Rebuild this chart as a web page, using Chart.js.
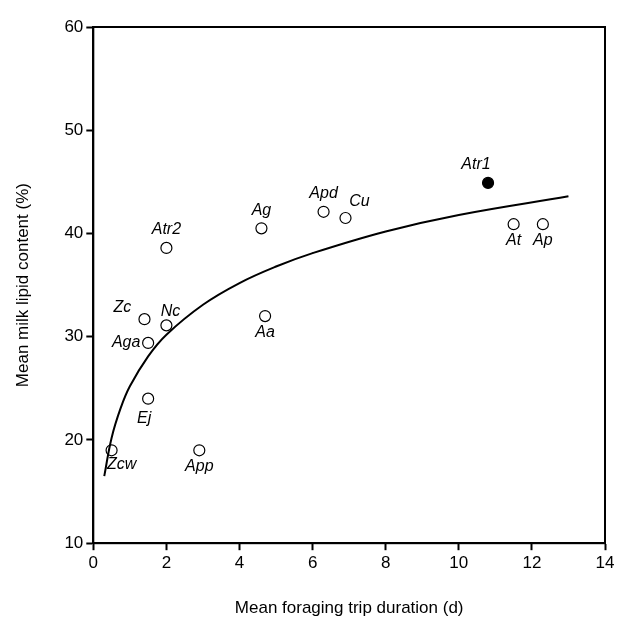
<!DOCTYPE html>
<html><head><style>html,body{margin:0;background:#fff}#w{width:625px;height:624px}</style>
<script src="https://cdn.jsdelivr.net/npm/chart.js"></script></head>
<body><div id="w"><canvas id="c"></canvas></div>
<script>
const speciesLabels=["Zcw","App","Ej","Aga","Zc","Nc","Atr2","Aa","Ag","Apd","Cu","Atr1","At","Ap"];
const tripDuration=[0.5,2.9,1.5,1.5,1.4,2.0,2.0,4.7,4.6,6.3,6.9,10.8,11.5,12.3];
const lipidContent=[19,19,24,29.4,31.7,31.1,38.6,32,40.5,42.1,41.5,44.9,40.9,40.9];
const curveX=[0.3,0.5,0.75,1,1.5,2,3,4,5,6,8,10,13];
const curveY=[16.5,20.2,23.1,25.2,28.1,30.2,33.1,35.2,36.8,38.1,40.2,41.8,43.6];
const xTicks=[0,2,4,6,8,10,12,14];
const yTicks=[10,20,30,40,50,60];
const labelOffsets=[[10,14],[0,16],[-4,20],[-22,0],[-22,-12],[4,-14],[0,-18],[0,16],[0,-18],[0,-18],[14,-16],[-12,-18],[0,16],[0,16]];
const lbl={id:'lbl',afterDatasetsDraw(ch){const m=ch.getDatasetMeta(1),c=ch.ctx;c.save();c.font='italic 16px "Liberation Sans"';c.fillStyle='#000';c.textAlign='center';c.textBaseline='middle';
m.data.forEach((p,i)=>{c.fillText(speciesLabels[i],p.x+labelOffsets[i][0],p.y+labelOffsets[i][1]);});
const a=ch.chartArea;c.strokeStyle='#000';c.lineWidth=2;c.strokeRect(a.left,a.top,a.right-a.left,a.bottom-a.top);c.restore();}};
const gridOpt={display:true,drawOnChartArea:false,drawTicks:true,tickLength:7,tickColor:'#000',tickWidth:2};
new Chart(document.getElementById('c'),{type:'scatter',
data:{datasets:[
{type:'line',data:curveX.map((x,i)=>({x,y:curveY[i]})),borderColor:'#000',borderWidth:2,pointRadius:0,tension:0.4,fill:false},
{data:tripDuration.map((x,i)=>({x,y:lipidContent[i]})),pointRadius:5.5,borderColor:'#000',borderWidth:1.2,
 backgroundColor:speciesLabels.map(s=>s==='Atr1'?'#000':'#fff')}]},
options:{responsive:true,maintainAspectRatio:false,animation:false,
layout:{padding:{left:9,right:20,top:27,bottom:1}},
plugins:{legend:{display:false},tooltip:{enabled:false}},
scales:{
x:{type:'linear',min:0,max:14,afterBuildTicks:s=>{s.ticks=xTicks.map(v=>({value:v}))},
 grid:gridOpt,border:{color:'#000',width:2},
 ticks:{color:'#000',font:{family:'Liberation Sans',size:17}},
 title:{display:true,text:'Mean foraging trip duration (d)',color:'#000',font:{family:'Liberation Sans',size:17},padding:{top:22}}},
y:{min:10,max:60,afterBuildTicks:s=>{s.ticks=yTicks.map(v=>({value:v}))},
 grid:gridOpt,border:{color:'#000',width:2},
 ticks:{color:'#000',font:{family:'Liberation Sans',size:17}},
 title:{display:true,text:'Mean milk lipid content (%)',color:'#000',font:{family:'Liberation Sans',size:17},padding:{bottom:28}}}}},
plugins:[lbl]});
</script></body></html>
